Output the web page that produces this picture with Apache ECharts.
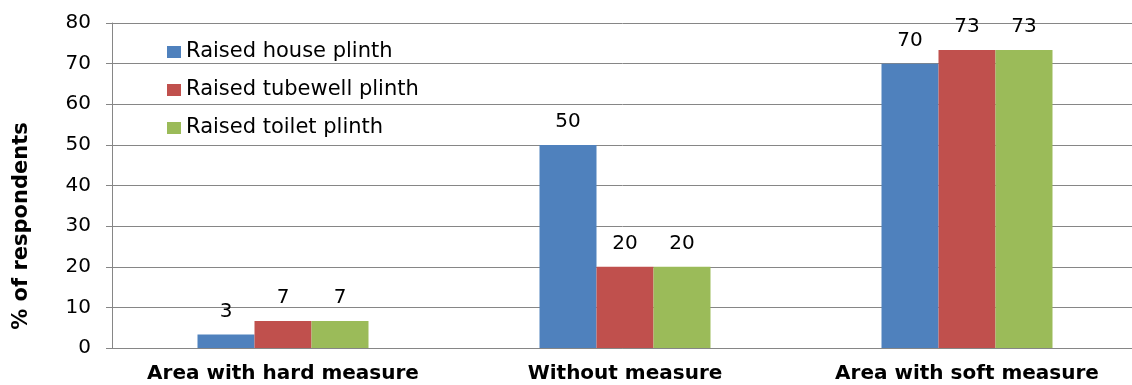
<!DOCTYPE html>
<html>
<head>
<meta charset="utf-8">
<script src="https://cdn.jsdelivr.net/npm/echarts@6/dist/echarts.min.js"></script>
<style>
  html, body { margin: 0; padding: 0; background: #fff; }
  #chart { width: 1132px; height: 385px; }
</style>
</head>
<body>
<div id="chart"></div>
<script>
// Survey results: share of respondents adopting each raised-plinth practice
const categories = ['Area with hard measure', 'Without measure', 'Area with soft measure'];
const seriesNames = ['Raised house plinth', 'Raised tubewell plinth', 'Raised toilet plinth'];
const houseValues = [3.33, 50, 70];
const tubewellValues = [6.67, 20, 73.33];
const toiletValues = [6.67, 20, 73.33];
const yTicks = [0, 10, 20, 30, 40, 50, 60, 70, 80];
const colors = ['#4F81BD', '#C0504D', '#9BBB59'];

const FONT = 'DejaVu Sans';
const chart = echarts.init(document.getElementById('chart'), null, { renderer: 'canvas' });

function barSeries(name, data, color) {
  return {
    name: name,
    type: 'bar',
    data: data,
    barGap: '0%',
    barCategoryGap: '50%',
    itemStyle: { color: color },
    label: {
      show: true,
      position: 'top',
      distance: 13,
      color: '#000',
      fontFamily: FONT,
      fontSize: 20,
      formatter: p => Math.round(p.value).toString()
    },
    emphasis: { disabled: true }
  };
}

chart.setOption({
  animation: false,
  backgroundColor: '#fff',
  textStyle: { fontFamily: FONT },
  // the plot runs slightly past the right edge of the canvas
  grid: {
    left: 112, width: 1026, top: 23, bottom: 37,
    containLabel: false,
    outerBoundsMode: 'none'
  },
  legend: {
    orient: 'vertical',
    left: 167,
    top: 40,
    padding: 0,
    itemWidth: 14,
    itemHeight: 12,
    itemGap: 14,
    icon: 'rect',
    data: seriesNames,
    textStyle: { fontFamily: FONT, fontSize: 21, color: '#000', lineHeight: 24 }
  },
  xAxis: {
    type: 'category',
    data: categories,
    axisLine: { show: true, lineStyle: { color: '#868686', width: 1 } },
    axisTick: { show: false },
    axisLabel: {
      margin: 16,
      color: '#000',
      fontFamily: FONT,
      fontWeight: 'bold',
      fontSize: 20,
      interval: 0
    }
  },
  yAxis: {
    type: 'value',
    min: yTicks[0],
    max: yTicks[yTicks.length - 1],
    interval: yTicks[1] - yTicks[0],
    axisLine: { show: true, lineStyle: { color: '#868686', width: 1 } },
    axisTick: { show: true, inside: false, length: 6, lineStyle: { color: '#868686' } },
    splitLine: { show: true, lineStyle: { color: '#868686', width: 1 } },
    axisLabel: { margin: 21, color: '#000', fontFamily: FONT, fontSize: 20 }
  },
  graphic: [{
    type: 'text',
    x: 22,
    y: 226,
    rotation: Math.PI / 2,
    style: {
      text: '% of respondents',
      fontFamily: FONT,
      fontWeight: 'bold',
      fontSize: 21,
      fill: '#000',
      align: 'center',
      verticalAlign: 'middle'
    }
  }],
  series: [
    barSeries(seriesNames[0], houseValues, colors[0]),
    barSeries(seriesNames[1], tubewellValues, colors[1]),
    barSeries(seriesNames[2], toiletValues, colors[2])
  ]
});
</script>
</body>
</html>
